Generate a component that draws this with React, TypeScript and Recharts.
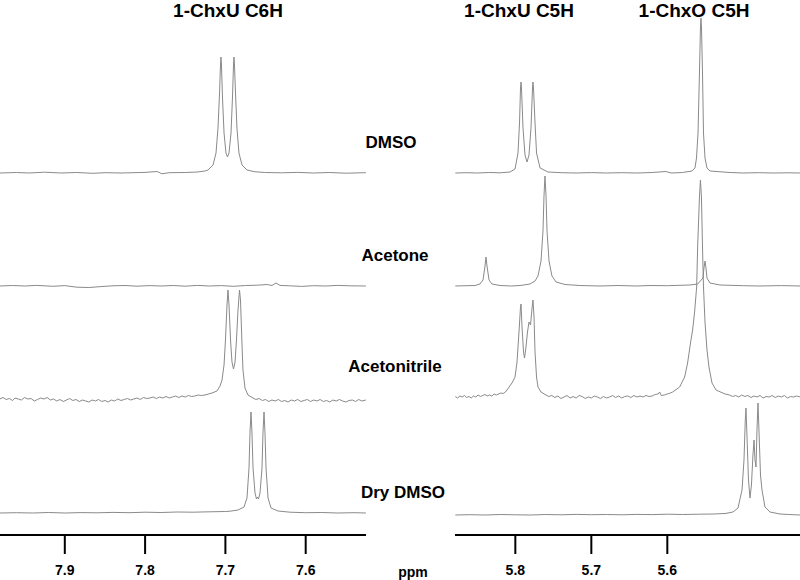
import React from 'react';
import { LineChart, Line, XAxis, YAxis } from 'recharts';

type Pt = [number, number];

const peakTitles = ['1-ChxU C6H', '1-ChxU C5H', '1-ChxO C5H'];
const solvents = ['DMSO', 'Acetone', 'Acetonitrile', 'Dry DMSO'];
const leftTicks = [7.9, 7.8, 7.7, 7.6];
const rightTicks = [5.8, 5.7, 5.6];
const leftDomain: [number, number] = [7.5249, 7.9807];
const rightDomain: [number, number] = [5.4254, 5.8794];
const axisUnit = 'ppm';

// ---------- left panel (7.98 - 7.52 ppm), intensity above each baseline ----------
const leftDmso: Pt[] = [
  [7.981, 0], [7.96, 0.5], [7.945, 0], [7.925, 0.8], [7.905, 0], [7.885, 0.5], [7.865, -0.3],
  [7.85, 0.3], [7.83, 0], [7.8, 0.6], [7.785, 1.5], [7.779, -0.8], [7.77, 0.3], [7.75, 0.5],
  [7.735, 1], [7.7255, 2], [7.7217, 3], [7.7154, 8], [7.7117, 20], [7.7092, 45], [7.7073, 80],
  [7.7061, 108], [7.7055, 116], [7.7049, 108], [7.7036, 75], [7.7017, 40], [7.6993, 20],
  [7.6974, 16], [7.6955, 20], [7.693, 40], [7.6912, 75], [7.6899, 108], [7.6893, 116],
  [7.6887, 108], [7.6874, 80], [7.6856, 45], [7.6831, 20], [7.6793, 8], [7.6731, 3],
  [7.6631, 1.2], [7.65, 0.5], [7.63, 0.2], [7.61, 0.6], [7.59, 0], [7.57, 0.5], [7.55, -0.2],
  [7.525, 0.3],
];

const leftAcetone: Pt[] = [
  [7.981, 0], [7.965, 0.5], [7.95, 0], [7.935, 0.6], [7.915, -0.3], [7.9, 0.4], [7.885, -1.2],
  [7.87, -1.5], [7.855, -0.6], [7.84, 0.2], [7.825, 0.5], [7.81, -0.2], [7.795, 0.4], [7.78, 0],
  [7.765, 0.5], [7.75, -0.2], [7.735, 0.6], [7.72, 0], [7.705, 0.4], [7.69, -0.3], [7.675, 0.5],
  [7.66, 0.8], [7.648, 1.5], [7.642, 0.5], [7.637, 3], [7.632, 0.6], [7.62, 0.2], [7.605, -0.4],
  [7.59, 0.3], [7.575, 0], [7.56, 0.6], [7.545, 0.2], [7.525, 0],
];

const leftAcetonitrile: Pt[] = [
  [7.981, 1], [7.977, 2.5], [7.973, 0.5], [7.969, 1.5], [7.965, -0.5], [7.962, 2], [7.958, 1],
  [7.954, 0], [7.95, 2.5], [7.946, 1], [7.942, 1.5], [7.938, -1], [7.934, 0.5], [7.93, 2],
  [7.926, 1], [7.922, 2.5], [7.918, 0], [7.914, 1], [7.91, -1], [7.906, 0.5], [7.902, -1.5],
  [7.898, 0], [7.894, 1.5], [7.89, -0.5], [7.886, 0.5], [7.882, -1.5], [7.878, 0], [7.874, -1],
  [7.87, -2], [7.866, 0], [7.862, -1], [7.858, 0.5], [7.854, -1.5], [7.85, -0.5], [7.846, -2],
  [7.842, 0], [7.838, -1], [7.834, 1], [7.83, -0.5], [7.826, 0.5], [7.822, 1.5], [7.818, 0],
  [7.814, 1], [7.81, 2], [7.806, 0.5], [7.802, 2.5], [7.798, 1.5], [7.794, 2], [7.79, 3],
  [7.786, 1.5], [7.782, 3], [7.778, 2], [7.774, 3.5], [7.77, 2], [7.766, 3], [7.762, 4],
  [7.758, 2.5], [7.754, 4], [7.75, 3], [7.746, 4.5], [7.742, 3.5], [7.738, 4], [7.734, 5],
  [7.73, 4.5],
  [7.7254, 5], [7.7167, 7], [7.7105, 9], [7.7067, 14], [7.7042, 20], [7.7017, 35], [7.6999, 60],
  [7.698, 95], [7.6968, 110], [7.6955, 95], [7.6936, 60], [7.6918, 38], [7.6899, 31], [7.688, 38],
  [7.6862, 60], [7.6843, 90], [7.6824, 110], [7.6812, 100], [7.6793, 55], [7.6781, 30],
  [7.6756, 12], [7.6719, 5], [7.6656, 2],
  [7.662, 0.5], [7.658, 1.5], [7.654, -0.5], [7.65, 0.5], [7.646, -1.5], [7.642, 0], [7.638, -1],
  [7.634, 0.5], [7.63, -1.5], [7.626, -0.5], [7.622, -2], [7.618, 0], [7.614, -1], [7.61, 0.5],
  [7.606, -1.5], [7.602, -0.5], [7.598, 0.5], [7.594, -1.5], [7.59, 0], [7.586, -1], [7.582, 0.5],
  [7.578, -1.5], [7.574, -0.5], [7.57, -2], [7.566, 0], [7.562, -1], [7.558, 0.5], [7.554, -1],
  [7.55, -2], [7.546, -0.5], [7.542, 0], [7.538, -1.5], [7.534, 0.5], [7.53, -1], [7.525, 0],
];

const leftDryDmso: Pt[] = [
  [7.981, 0], [7.96, 0.3], [7.94, 0], [7.92, 0.5], [7.9, 0], [7.88, 0.4], [7.86, 0.2], [7.84, 0.6],
  [7.82, 0.3], [7.8, 0.8], [7.78, 0.5], [7.76, 1], [7.74, 0.8], [7.72, 1.2], [7.7, 1.5],
  [7.6943, 1.8], [7.6843, 3], [7.6768, 6], [7.6731, 15], [7.6706, 45], [7.6694, 80], [7.6681, 101],
  [7.6669, 80], [7.6656, 45], [7.6631, 20], [7.6613, 14], [7.66, 16], [7.6588, 14], [7.6569, 20],
  [7.6544, 45], [7.6532, 80], [7.6519, 101], [7.6507, 80], [7.6494, 45], [7.6469, 15], [7.6432, 5],
  [7.6344, 2], [7.6196, 0.8], [7.6, 0.3], [7.58, 0.5], [7.56, 0], [7.54, 0.3], [7.525, 0],
];

// ---------- right panel (5.88 - 5.43 ppm) ----------
const rightDmso: Pt[] = [
  [5.879, 0], [5.865, 0.3], [5.85, 0], [5.835, 0.5], [5.82, 0.2], [5.807, 1], [5.8004, 4],
  [5.7965, 20], [5.7945, 50], [5.7932, 85], [5.7925, 91], [5.7919, 85], [5.7899, 45], [5.7873, 18],
  [5.7846, 11], [5.782, 18], [5.7794, 45], [5.7774, 85], [5.7768, 91], [5.7761, 85], [5.7741, 50],
  [5.7721, 20], [5.7675, 5], [5.757, 1], [5.74, 0.3], [5.72, 0], [5.7, 0.4], [5.68, 0], [5.66, 0.3],
  [5.64, 0], [5.62, 0.5], [5.6018, 1.5], [5.595, 0], [5.58, 0.5], [5.5675, 2], [5.5636, 5],
  [5.5616, 15], [5.5596, 40], [5.5577, 100], [5.5564, 145], [5.5557, 155], [5.555, 145],
  [5.5537, 100], [5.5524, 40], [5.5504, 15], [5.5478, 5], [5.5439, 2], [5.5175, 0.5], [5.5, 0],
  [5.48, 0.3], [5.46, 0], [5.44, 0.2], [5.425, 0],
];

const rightAcetone: Pt[] = [
  [5.879, 0], [5.865, 0.3], [5.8531, 0.5], [5.8465, 2], [5.8425, 6], [5.8399, 20], [5.8386, 29],
  [5.8373, 20], [5.8346, 6], [5.8307, 2], [5.8202, 0.5], [5.805, 0], [5.7939, 0.5], [5.7807, 2],
  [5.7741, 5], [5.7702, 10], [5.7662, 25], [5.7636, 55], [5.7623, 90], [5.761, 110], [5.7596, 90],
  [5.7583, 55], [5.7557, 25], [5.7518, 10], [5.7465, 4], [5.7347, 1.5], [5.715, 0.5], [5.6886, 0],
  [5.665, 0.5], [5.64, 0], [5.6228, 0.5], [5.6, 0.3], [5.5702, 1], [5.56, 2], [5.5531, 8],
  [5.5518, 18], [5.5504, 25], [5.5491, 18], [5.5478, 8], [5.5439, 3], [5.5307, 1], [5.5, 0.3],
  [5.4781, 0], [5.45, 0.4], [5.425, 0],
];

const rightAcetonitrile: Pt[] = [
  [5.879, 0.5], [5.876, -1], [5.873, 1], [5.87, 0], [5.867, 1.5], [5.864, -0.5], [5.861, 0.5],
  [5.858, -1], [5.855, 1], [5.852, 0], [5.849, 2], [5.846, 0.5], [5.843, 1.5], [5.84, 2.5],
  [5.837, 1], [5.834, 2], [5.831, 1], [5.828, 3], [5.825, 2], [5.822, 3], [5.819, 4], [5.816, 3.5],
  [5.813, 5],
  [5.811, 7], [5.8044, 14], [5.8004, 20], [5.7978, 35], [5.7952, 65], [5.7932, 90], [5.7925, 93],
  [5.7912, 70], [5.7892, 45], [5.7879, 39], [5.786, 50], [5.784, 65], [5.782, 75], [5.78, 72],
  [5.7781, 88], [5.7768, 97], [5.7754, 80], [5.7741, 45], [5.7721, 20], [5.7702, 10], [5.7662, 5],
  [5.7596, 2],
  [5.756, 0.5], [5.752, 1.5], [5.748, -0.5], [5.744, 1], [5.74, -1.5], [5.736, 0], [5.732, 1.5],
  [5.728, -1], [5.724, 0.5], [5.72, -1], [5.716, 1.5], [5.712, 0.5], [5.708, -1.5], [5.704, 0],
  [5.7, -1], [5.696, 1], [5.692, 0], [5.688, -1.5], [5.684, 0.5], [5.68, -1], [5.676, 0],
  [5.672, 1.5], [5.668, -0.5], [5.664, 1], [5.66, -1], [5.656, 0.5], [5.652, 1], [5.648, -0.5],
  [5.644, 1.5], [5.64, 0], [5.636, 1], [5.632, 0], [5.628, 1.5], [5.624, 0.5], [5.62, 1],
  [5.616, 2.5], [5.612, 3], [5.6101, 5], [5.608, 1.5], [5.604, 2], [5.6, 3], [5.596, 4],
  [5.593, 5], [5.5838, 10], [5.5772, 20], [5.5733, 34], [5.5693, 55], [5.5667, 67], [5.5641, 85],
  [5.5614, 110], [5.5601, 150], [5.5577, 200], [5.5564, 217], [5.5551, 200], [5.5537, 150],
  [5.5524, 110], [5.5504, 75], [5.5478, 47], [5.5452, 30], [5.5412, 14], [5.5359, 7], [5.5241, 3],
  [5.518, 2], [5.514, 0.5], [5.51, 1.5], [5.506, 0], [5.502, 2], [5.498, 0.5], [5.494, 1.5],
  [5.49, -0.5], [5.486, 1], [5.482, 0], [5.478, 1.5], [5.474, -1], [5.47, 0.5], [5.466, 0],
  [5.462, 1.5], [5.458, -0.5], [5.454, 1], [5.45, 0], [5.446, 1.5], [5.442, -1], [5.438, 0.5],
  [5.434, 0], [5.43, 1], [5.425, 0],
];

const rightDryDmso: Pt[] = [
  [5.879, 0], [5.86, 0.3], [5.84, 0], [5.82, 0.5], [5.8, 0.2], [5.78, 0], [5.76, 0.5], [5.74, 0.2],
  [5.72, 0.6], [5.7, 0.3], [5.68, 0.5], [5.66, 0.2], [5.64, 0.6], [5.62, 0.4], [5.6, 0.8],
  [5.58, 0.5], [5.5574, 0.8], [5.54, 1], [5.5241, 1.5], [5.5136, 3], [5.507, 7], [5.5017, 25],
  [5.4991, 55], [5.4974, 95], [5.4965, 107], [5.4952, 80], [5.4932, 35], [5.4912, 17], [5.4893, 30],
  [5.4873, 60], [5.4859, 75], [5.4846, 55], [5.4833, 48], [5.482, 85], [5.4807, 112], [5.4794, 85],
  [5.4774, 40], [5.4754, 25], [5.4715, 8], [5.4649, 3], [5.4517, 1], [5.44, 0.5], [5.425, 0],
];

// ---------- layout ----------
const PLOT_TOP = 10;
const PLOT_BOTTOM = 535;
const CHART_H = 580;
const leftBaselines = [173, 286, 400, 513];
const rightBaselines = [173, 286, 397, 515];
const LINE_COLOR = '#8a8a8a';
const FONT = '"Liberation Sans", Arial, sans-serif';

const toRows = (pts: Pt[]) => pts.map(([ppm, i]) => ({ ppm, i }));

type PanelProps = {
  left: number;
  width: number;
  domain: [number, number];
  ticks: number[];
  series: Pt[][];
  baselines: number[];
};

function Panel({ left, width, domain, ticks, series, baselines }: PanelProps) {
  return (
    <div style={{ position: 'absolute', left, top: 0 }}>
      <LineChart width={width} height={CHART_H} margin={{ top: PLOT_TOP, right: 0, left: 0, bottom: 0 }}>
        <XAxis
          type="number"
          dataKey="ppm"
          domain={domain}
          reversed
          allowDataOverflow
          ticks={ticks}
          interval={0}
          height={CHART_H - PLOT_BOTTOM}
          tickSize={19}
          tickMargin={11}
          axisLine={{ stroke: '#000', strokeWidth: 2 }}
          tickLine={{ stroke: '#000', strokeWidth: 2 }}
          tick={{ fill: '#000', fontSize: 14, fontWeight: 'bold', fontFamily: FONT }}
          tickFormatter={(v: number) => v.toFixed(1)}
        />
        {series.map((_, k) => (
          <YAxis
            key={'y' + k}
            yAxisId={'s' + k}
            type="number"
            hide
            allowDataOverflow
            domain={[-(PLOT_BOTTOM - baselines[k]), baselines[k] - PLOT_TOP]}
          />
        ))}
        {series.map((s, k) => (
          <Line
            key={'l' + k}
            yAxisId={'s' + k}
            data={toRows(s)}
            dataKey="i"
            type="linear"
            stroke={LINE_COLOR}
            strokeWidth={1}
            dot={false}
            activeDot={false}
            isAnimationActive={false}
          />
        ))}
      </LineChart>
    </div>
  );
}

const Label = ({ x, y, size, children }: { x: number; y: number; size: number; children: React.ReactNode }) => (
  <div
    style={{
      position: 'absolute',
      left: x,
      top: y,
      transform: 'translate(-50%, -50%)',
      fontFamily: FONT,
      fontWeight: 'bold',
      fontSize: size,
      lineHeight: 1,
      whiteSpace: 'nowrap',
      color: '#000',
    }}
  >
    {children}
  </div>
);

export default function App() {
  return (
    <div style={{ position: 'fixed', left: 0, top: 0, width: 800, height: 580, background: '#fff', overflow: 'hidden' }}>
      <Panel
        left={0}
        width={366}
        domain={leftDomain}
        ticks={leftTicks}
        series={[leftDmso, leftAcetone, leftAcetonitrile, leftDryDmso]}
        baselines={leftBaselines}
      />
      <Panel
        left={455}
        width={345}
        domain={rightDomain}
        ticks={rightTicks}
        series={[rightDmso, rightAcetone, rightAcetonitrile, rightDryDmso]}
        baselines={rightBaselines}
      />
      <Label x={228} y={10} size={19}>{peakTitles[0]}</Label>
      <Label x={519} y={10} size={19}>{peakTitles[1]}</Label>
      <Label x={694} y={10} size={19}>{peakTitles[2]}</Label>
      <Label x={391} y={142} size={17}>{solvents[0]}</Label>
      <Label x={395} y={255} size={17}>{solvents[1]}</Label>
      <Label x={395} y={366} size={17}>{solvents[2]}</Label>
      <Label x={403} y={492} size={17}>{solvents[3]}</Label>
      <Label x={413} y={572} size={14}>{axisUnit}</Label>
    </div>
  );
}
